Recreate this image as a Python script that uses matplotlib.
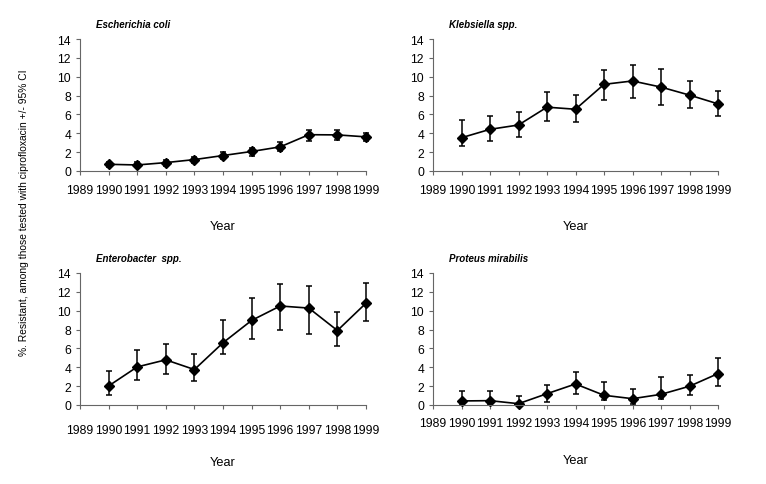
import numpy as np
from matplotlib import pyplot as plt

plt.rcParams["font.family"] = ["Liberation Sans", "DejaVu Sans"]

years = [1990, 1991, 1992, 1993, 1994, 1995, 1996, 1997, 1998, 1999]
tick_years = list(range(1989, 2000))

# E. coli
ecoli = [0.71, 0.64, 0.89, 1.21, 1.64, 2.07, 2.56, 3.85, 3.83, 3.62]
ecoli_hi = [1.0, 0.93, 1.18, 1.53, 2.0, 2.46, 3.03, 4.4, 4.31, 4.08]
ecoli_lo = [0.43, 0.39, 0.57, 0.89, 1.25, 1.64, 2.07, 3.15, 3.31, 3.15]

# Klebsiella
kleb = [3.53, 4.42, 4.88, 6.77, 6.55, 9.19, 9.55, 8.9, 8.05, 7.12]
kleb_hi = [5.38, 5.8, 6.3, 8.33, 8.05, 10.76, 11.26, 10.83, 9.52, 8.48]
kleb_lo = [2.6, 3.21, 3.63, 5.34, 5.17, 7.52, 7.73, 7.02, 6.73, 5.84]

# Enterobacter
entero = [2.02, 4.04, 4.79, 3.76, 6.6, 8.97, 10.5, 10.28, 7.9, 10.8]
entero_hi = [3.62, 5.85, 6.49, 5.46, 9.0, 11.35, 12.87, 12.66, 9.86, 12.94]
entero_lo = [1.1, 2.66, 3.3, 2.59, 5.39, 7.02, 7.98, 7.48, 6.28, 8.87]

# Proteus
proteus = [0.43, 0.46, 0.14, 1.2, 2.23, 1.03, 0.67, 1.13, 1.99, 3.33]
proteus_hi = [1.45, 1.45, 0.92, 2.16, 3.55, 2.48, 1.67, 3.01, 3.23, 4.96]
proteus_lo = [0.1, 0.1, 0.0, 0.32, 1.13, 0.57, 0.14, 0.6, 1.06, 2.06]

panels = [
    ("Escherichia coli", ecoli, ecoli_lo, ecoli_hi),
    ("Klebsiella spp.", kleb, kleb_lo, kleb_hi),
    ("Enterobacter  spp.", entero, entero_lo, entero_hi),
    ("Proteus mirabilis", proteus, proteus_lo, proteus_hi),
]

W, H = 766, 485
fig = plt.figure(figsize=(W / 100, H / 100), dpi=100)

# pixel boxes: left, top, right, bottom
boxes = [(80, 40, 366, 172), (433, 40, 718, 172), (80, 274, 366, 406), (433, 274, 718, 406)]
xpads = [6, 6, 11, 6]
ypads = [17.5, 17.5, 14, 17.5]

for (title, vals, lo, hi), (l, t, r, b), xpad, lpad in zip(panels, boxes, xpads, ypads):
    ax = fig.add_axes([l / W, 1 - b / H, (r - l) / W, (b - t) / H])
    vals = np.array(vals)
    yerr = [vals - np.array(lo), np.array(hi) - vals]
    eb = ax.errorbar(years, vals, yerr=yerr, color="black", lw=1.2, marker="D",
                     ms=5.5, capsize=2.5, elinewidth=1.1, capthick=1.1)
    for art in eb.get_children():
        art.set_clip_on(False)
    ax.set_xlim(1989, 1999)
    ax.set_ylim(0, 14)
    ax.set_yticks(range(0, 15, 2))
    ax.set_xticks(tick_years)
    ax.set_xticklabels([str(y) for y in tick_years])
    for s in ["top", "right"]:
        ax.spines[s].set_visible(False)
    for s in ["left", "bottom"]:
        ax.spines[s].set_color("#666666")
        ax.spines[s].set_linewidth(0.8)
    ax.tick_params(axis="both", colors="#666666", labelcolor="black",
                   labelsize=8.7, length=3, width=0.8)
    ax.tick_params(axis="x", pad=xpad)
    ax.set_xlabel("Year", fontsize=9.2, labelpad=lpad)
    ax.set_title(title, fontsize=7, fontweight="bold", style="italic",
                 loc="left", x=0.055, pad=8.8)
    ax.patch.set_alpha(0)

fig.text(24 / W, 1 - 213 / H,
         "%. Resistant, among those tested with ciprofloxacin +/- 95% CI",
         rotation=90, ha="center", va="center", fontsize=7.4)

fig.savefig("out.png", dpi=100)
